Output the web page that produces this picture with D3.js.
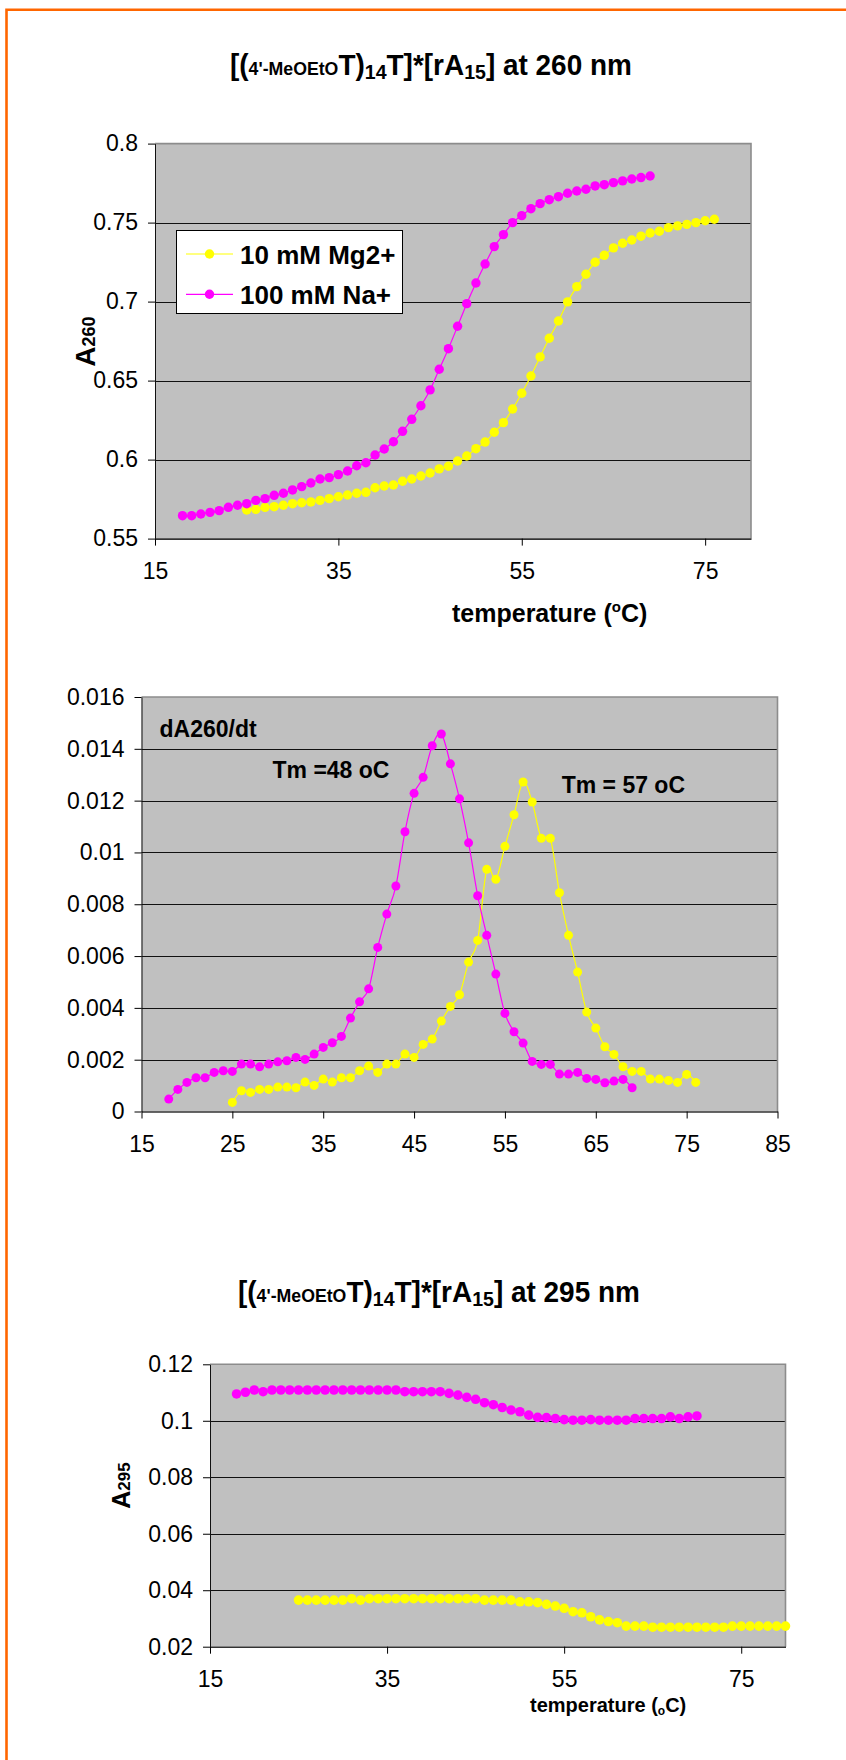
<!DOCTYPE html>
<html>
<head>
<meta charset="utf-8">
<script src="https://cdn.jsdelivr.net/npm/d3@7"></script>
<style>
body { margin: 0; background: #fff; }
svg { display: block; font-family: "Liberation Sans", Arial, sans-serif; }
</style>
</head>
<body>
<script>

// ---- data ----
var seriesNames = ["10 mM Mg2+", "100 mM Na+"];

// A260 melting curves
var tempNa260 = [18,19,20,21,22,23,24,25,26,27,28,29,30,31,32,33,34,35,36,37,38,39,40,41,42,43,
                 44,45,46,47,48,49,50,51,52,53,54,55,56,57,58,59,60,61,62,63,64,65,66,67,68,69];
var absNa260 = [0.5645,0.5645,0.5656,0.5666,0.5677,0.5698,0.5711,0.5721,0.5742,0.5753,0.5774,0.5787,0.5808,
                0.5829,0.5852,0.5877,0.5886,0.5905,0.5928,0.5961,0.5980,0.6029,0.6067,0.6113,0.6179,0.6255,
                0.6341,0.6441,0.6572,0.6702,0.6844,0.6987,0.7118,0.7238,0.7348,0.7424,0.7500,0.7544,0.7588,
                0.7620,0.7645,0.7664,0.7686,0.7700,0.7711,0.7732,0.7740,0.7753,0.7764,0.7776,0.7785,0.7795];
var tempMg260 = [25,26,27,28,29,30,31,32,33,34,35,36,37,38,39,40,41,42,43,44,45,46,47,48,49,50,
                 51,52,53,54,55,56,57,58,59,60,61,62,63,64,65,66,67,68,69,70,71,72,73,74,75,76];
var absMg260 = [0.5681,0.5685,0.5698,0.5702,0.5711,0.5721,0.5727,0.5732,0.5742,0.5753,0.5765,0.5776,0.5787,
                0.5793,0.5822,0.5833,0.5839,0.5863,0.5877,0.5896,0.5915,0.5941,0.5958,0.5991,0.6023,0.6069,
                0.6111,0.6173,0.6234,0.6320,0.6420,0.6529,0.6650,0.6768,0.6877,0.6998,0.7095,0.7173,0.7249,
                0.7293,0.7340,0.7369,0.7390,0.7414,0.7434,0.7445,0.7468,0.7479,0.7489,0.7500,0.7512,0.7521];

// first derivative dA260/dt (same temperatures as above)
var derivNa = [0.000479,0.000853,0.001123,0.001301,0.001301,0.001509,0.001571,0.001548,0.00183,0.00183,
               0.001725,0.00183,0.001918,0.001957,0.002088,0.002011,0.002216,0.002474,0.002652,0.002899,
               0.003605,0.004234,0.004736,0.006334,0.00762,0.008703,0.0108,0.01228,0.0129,0.01412,0.01457,
               0.01342,0.01207,0.01037,0.00833,0.0068,0.005304,0.003787,0.003077,0.00264,0.001934,0.001818,
               0.001818,0.001444,0.001444,0.001509,0.001278,0.001239,0.001108,0.001173,0.001239,0.000915];
var derivMg = [0.000351,0.000799,0.000737,0.000853,0.000853,0.000942,0.000942,0.000915,0.001135,0.001007,
               0.001251,0.001135,0.001301,0.001301,0.001571,0.001752,0.001509,0.00183,0.00183,0.002216,
               0.002088,0.00259,0.002795,0.00349,0.004057,0.004505,0.005767,0.006605,0.009347,0.008961,
               0.010236,0.011456,0.012718,0.011946,0.010544,0.010544,0.008444,0.0068,0.005382,0.003838,
               0.00322,0.002498,0.002204,0.001726,0.001548,0.001548,0.001251,0.001251,0.0012,0.001123,
               0.001432,0.001123];

// A295 curves
var tempNa295 = [18,19,20,21,22,23,24,25,26,27,28,29,30,31,32,33,34,35,36,37,38,39,40,41,42,43,44,
                 45,46,47,48,49,50,51,52,53,54,55,56,57,58,59,60,61,62,63,64,65,66,67,68,69,70];
var absNa295 = [0.1095,0.1101,0.1109,0.1103,0.1109,0.1109,0.1109,0.1109,0.1109,0.1109,0.1109,0.1109,0.1109,
                0.1109,0.1109,0.1109,0.1109,0.1109,0.1109,0.1103,0.1103,0.1103,0.1103,0.1103,0.1097,0.1091,
                0.1083,0.1076,0.1064,0.1057,0.1047,0.1038,0.1032,0.1020,0.1012,0.1011,0.1008,0.1004,0.1002,
                0.1002,0.1004,0.1002,0.1002,0.1002,0.1002,0.1008,0.1008,0.1008,0.1008,0.1014,0.1008,0.1014,0.1017];
var tempMg295 = [25,26,27,28,29,30,31,32,33,34,35,36,37,38,39,40,41,42,43,44,45,46,47,48,49,50,51,52,
                 53,54,55,56,57,58,59,60,61,62,63,64,65,66,67,68,69,70,71,72,73,74,75,76,77,78,79,80];
var absMg295 = [0.0365,0.0365,0.0365,0.0365,0.0365,0.0365,0.0370,0.0365,0.0370,0.0370,0.0370,0.0370,0.0370,
                0.0370,0.0370,0.0370,0.0370,0.0370,0.0370,0.0370,0.0370,0.0365,0.0365,0.0365,0.0365,0.0359,
                0.0359,0.0356,0.0350,0.0344,0.0336,0.0324,0.0320,0.0306,0.0295,0.0289,0.0285,0.0273,0.0273,
                0.0273,0.0269,0.0269,0.0269,0.0269,0.0269,0.0269,0.0269,0.0269,0.0269,0.0273,0.0273,0.0273,
                0.0273,0.0273,0.0273,0.0273];

// axis ticks
var xTicks260 = [15, 35, 55, 75];
var yTicks260 = [0.55, 0.6, 0.65, 0.7, 0.75, 0.8];
var xTicksDeriv = [15, 25, 35, 45, 55, 65, 75, 85];
var yTicksDeriv = [0, 0.002, 0.004, 0.006, 0.008, 0.01, 0.012, 0.014, 0.016];
var xTicks295 = [15, 35, 55, 75];
var yTicks295 = [0.02, 0.04, 0.06, 0.08, 0.1, 0.12];

var colMg = "#ffff00", colNa = "#ff00ff";

var svg = d3.select("body")
            .append("svg")
            .attr("width", 846)
            .attr("height", 1760);

// orange frame (only top and left edges are on the page)
svg.append("path")
   .attr("d", "M6.5,1760 V9.8 H846")
   .attr("fill", "none")
   .attr("stroke", "#ff6600")
   .attr("stroke-width", 2.6);

function panel(box, xDomain, yDomain, xTicks, yTicks) {
    var x = d3.scaleLinear().domain(xDomain).range([box.left, box.right]);
    var y = d3.scaleLinear().domain(yDomain).range([box.bottom, box.top]);
    var g = svg.append("g");

    g.append("rect")
     .attr("x", box.left).attr("y", box.top)
     .attr("width", box.right - box.left)
     .attr("height", box.bottom - box.top)
     .attr("fill", "#c0c0c0");

    g.selectAll(".grid")
     .data(yTicks.slice(1, -1))
     .enter().append("line")
     .attr("x1", box.left).attr("x2", box.right)
     .attr("y1", function(d) { return Math.round(y(d)) + 0.5; })
     .attr("y2", function(d) { return Math.round(y(d)) + 0.5; })
     .attr("stroke", "#111")
     .attr("stroke-width", 1);

    g.append("path")
     .attr("d", "M" + box.left + "," + box.top + "H" + box.right + "V" + box.bottom)
     .attr("fill", "none")
     .attr("stroke", "#8c8c8c")
     .attr("stroke-width", 1.6);

    g.append("g")
     .attr("transform", "translate(0," + box.bottom + ")")
     .call(d3.axisBottom(x).tickValues(xTicks).tickSize(7).tickPadding(17).tickSizeOuter(0))
     .attr("font-size", 23)
     .attr("font-family", null)
     .call(function(a) { a.select(".domain").attr("stroke", "#333").attr("stroke-width", 1.6); });

    g.append("g")
     .attr("transform", "translate(" + box.left + ",0)")
     .call(d3.axisLeft(y).tickValues(yTicks).tickFormat(String).tickSize(7).tickPadding(10).tickSizeOuter(0))
     .attr("font-size", 23)
     .attr("font-family", null)
     .call(function(a) { a.select(".domain").attr("stroke", "#111"); });

    return {x: x, y: y, g: g};
}

function series(p, temps, vals, color, r) {
    var pts = temps.map(function(t, i) { return [t, vals[i]]; });
    var line = d3.line()
                 .x(function(d) { return p.x(d[0]); })
                 .y(function(d) { return p.y(d[1]); })
                 .curve(d3.curveCatmullRom.alpha(0));
    p.g.append("path")
       .datum(pts)
       .attr("d", line)
       .attr("fill", "none")
       .attr("stroke", color)
       .attr("stroke-width", 1.2);
    p.g.append("g")
       .selectAll("circle")
       .data(pts)
       .enter().append("circle")
       .attr("cx", function(d) { return p.x(d[0]); })
       .attr("cy", function(d) { return p.y(d[1]); })
       .attr("r", r)
       .attr("fill", color);
}

// chart title with the small/sub-scripted bits
function title(cx, baseline, wl, width) {
    var parts = [["[(", 30, 0], ["4'-MeOEtO", 19, 0], ["T)", 30, 0], ["14", 21, 4],
                 ["T]*[rA", 30, 0], ["15", 21, 4], ["] at " + wl + " nm", 30, 0]];
    var t = svg.append("text").attr("font-weight", "bold");
    var prev = 0;
    parts.forEach(function(p) {
        t.append("tspan").attr("font-size", p[1]).attr("dy", p[2] - prev).text(p[0]);
        prev = p[2];
    });
    var w = t.node().getBBox().width;
    t.attr("transform", "translate(" + (cx - width / 2) + "," + baseline + ") scale(" + (width / w) + ",1)");
}

function yTitle(x, cy, sub, big, small) {
    var t = svg.append("text")
               .attr("transform", "translate(" + x + "," + cy + ") rotate(-90)")
               .attr("text-anchor", "middle")
               .attr("font-weight", "bold");
    t.append("tspan").attr("font-size", big).text("A");
    t.append("tspan").attr("font-size", small).text(sub);
}

// ---------- chart 1 : A260 ----------
title(431, 75, "260", 402);

var p1 = panel({left: 155, right: 751, top: 143.6, bottom: 538.6}, [15, 80], [0.55, 0.8], xTicks260, yTicks260);
series(p1, tempMg260, absMg260, colMg, 4.7);
series(p1, tempNa260, absNa260, colNa, 4.7);

yTitle(95, 341.5, "260", 28, 18);

var xt1 = svg.append("text").attr("x", 452).attr("y", 621.7).attr("font-weight", "bold").attr("font-size", 25);
xt1.append("tspan").text("temperature (");
xt1.append("tspan").attr("font-size", 15).attr("dy", -10).text("o");
xt1.append("tspan").attr("dy", 10).text("C)");

// legend
var leg = svg.append("g");
leg.append("rect")
   .attr("x", 176.5).attr("y", 230.5).attr("width", 226).attr("height", 83)
   .attr("fill", "#fff").attr("stroke", "#000").attr("stroke-width", 1);
var legEntries = leg.selectAll(".entry")
   .data([[seriesNames[0], colMg], [seriesNames[1], colNa]])
   .enter().append("g")
   .attr("transform", function(d, i) { return "translate(0," + (254 + i * 40.3) + ")"; });
legEntries.append("line")
   .attr("x1", 186).attr("x2", 233).attr("y1", 0).attr("y2", 0)
   .attr("stroke", function(d) { return d[1]; }).attr("stroke-width", 1.2);
legEntries.append("circle")
   .attr("cx", 209.5).attr("cy", 0).attr("r", 4.7)
   .attr("fill", function(d) { return d[1]; });
legEntries.append("text")
   .attr("x", 240).attr("y", 9.5)
   .attr("font-weight", "bold").attr("font-size", 26)
   .text(function(d) { return d[0]; });

// ---------- chart 2 : derivative ----------
var p2 = panel({left: 141.5, right: 777.5, top: 697, bottom: 1111.5}, [15, 85], [0, 0.016], xTicksDeriv, yTicksDeriv);
series(p2, tempMg260, derivMg, colMg, 4.5);
series(p2, tempNa260, derivNa, colNa, 4.5);

svg.append("text").attr("x", 159.5).attr("y", 737).attr("font-weight", "bold").attr("font-size", 23).text("dA260/dt");
svg.append("text").attr("x", 272.5).attr("y", 777.7).attr("font-weight", "bold").attr("font-size", 23).text("Tm =48 oC");
svg.append("text").attr("x", 561.7).attr("y", 792.7).attr("font-weight", "bold").attr("font-size", 23).text("Tm = 57 oC");

// ---------- chart 3 : A295 ----------
title(439, 1301.7, "295", 402);

var p3 = panel({left: 210, right: 785.5, top: 1364.3, bottom: 1646.7}, [15, 80], [0.02, 0.12], xTicks295, yTicks295);
series(p3, tempMg295, absMg295, colMg, 4.8);
series(p3, tempNa295, absNa295, colNa, 4.8);

yTitle(130, 1485.5, "295", 25, 17);

var xt3 = svg.append("text").attr("x", 530).attr("y", 1711.7).attr("font-weight", "bold").attr("font-size", 20);
xt3.append("tspan").text("temperature (");
xt3.append("tspan").attr("font-size", 12).attr("dy", 3).text("o");
xt3.append("tspan").attr("dy", -3).text("C)");

</script>
</body>
</html>
